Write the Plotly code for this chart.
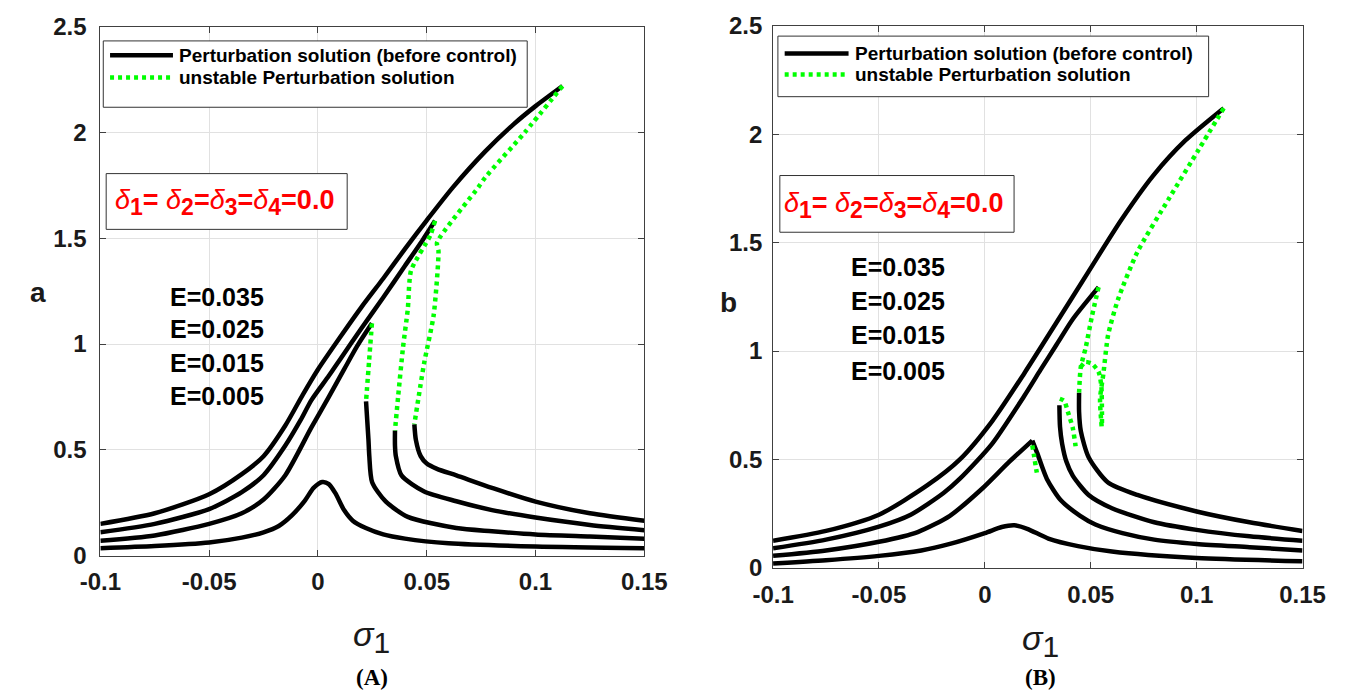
import plotly.graph_objects as go

# ================= DATA =================
x_ticks = [-0.1, -0.05, 0, 0.05, 0.1, 0.15]
x_tick_text = ["-0.1", "-0.05", "0", "0.05", "0.1", "0.15"]
y_ticks = [0, 0.5, 1, 1.5, 2, 2.5]
y_tick_text = ["0", "0.5", "1", "1.5", "2", "2.5"]
e_labels = ["E=0.035", "E=0.025", "E=0.015", "E=0.005"]
legend_names = ["Perturbation solution (before control)", "unstable Perturbation solution"]
panel_labels = ["(A)", "(B)"]
y_labels = ["a", "b"]

# ---- Panel A (a vs sigma1) ----
A_E035_up_x = [-0.1, -0.075, -0.05, -0.035, -0.025, -0.015, -0.007, 0.0, 0.01, 0.02, 0.03, 0.04, 0.05, 0.0621, 0.0769, 0.09, 0.1, 0.1124]
A_E035_up_y = [0.15, 0.2, 0.29, 0.385, 0.47, 0.615, 0.76, 0.88, 1.03, 1.175, 1.31, 1.45, 1.585, 1.742, 1.911, 2.04, 2.125, 2.22]
A_E035_un_x = [0.1124, 0.095, 0.0769, 0.0738, 0.0547, 0.0554, 0.0532, 0.0488, 0.0443]
A_E035_un_y = [2.22, 2.0, 1.788, 1.742, 1.479, 1.44, 1.138, 0.91, 0.621]
A_E035_lo_x = [0.0443, 0.045, 0.0472, 0.05, 0.0547, 0.0636, 0.08, 0.1, 0.125, 0.15]
A_E035_lo_y = [0.621, 0.547, 0.47, 0.435, 0.41, 0.379, 0.32, 0.255, 0.2, 0.165]

A_E025_up_x = [-0.1, -0.075, -0.05, -0.035, -0.025, -0.015, -0.008, -0.003, 0.005, 0.01, 0.02, 0.03, 0.04, 0.048, 0.0538]
A_E025_up_y = [0.11, 0.15, 0.22, 0.3, 0.38, 0.52, 0.64, 0.735, 0.85, 0.925, 1.075, 1.22, 1.37, 1.49, 1.583]
A_E025_un_x = [0.0538, 0.0517, 0.0428, 0.0413, 0.0391, 0.0369, 0.0354]
A_E025_un_y = [1.583, 1.515, 1.348, 1.166, 0.985, 0.757, 0.591]
A_E025_lo_x = [0.0354, 0.0354, 0.0358, 0.0384, 0.0488, 0.0636, 0.08, 0.1, 0.125, 0.15]
A_E025_lo_y = [0.591, 0.52, 0.47, 0.379, 0.303, 0.257, 0.215, 0.18, 0.145, 0.12]

A_E015_up_x = [-0.1, -0.075, -0.05, -0.035, -0.025, -0.015, -0.003, 0.005, 0.012, 0.018, 0.0248]
A_E015_up_y = [0.07, 0.095, 0.15, 0.2, 0.265, 0.38, 0.606, 0.75, 0.88, 0.99, 1.098]
A_E015_un_x = [0.0248, 0.0235, 0.0221]
A_E015_un_y = [1.098, 0.92, 0.729]
A_E015_lo_x = [0.0221, 0.0232, 0.0236, 0.0249, 0.0311, 0.0413, 0.0636, 0.08, 0.1, 0.125, 0.15]
A_E015_lo_y = [0.729, 0.55, 0.47, 0.347, 0.256, 0.183, 0.13, 0.115, 0.1, 0.09, 0.08]

A_E005_x = [-0.1, -0.075, -0.05, -0.035, -0.025, -0.018, -0.012, -0.006, -0.002, 0.002, 0.005, 0.008, 0.012, 0.016, 0.022, 0.03, 0.04, 0.06, 0.1, 0.15]
A_E005_y = [0.035, 0.045, 0.062, 0.085, 0.11, 0.14, 0.19, 0.26, 0.32, 0.348, 0.338, 0.295, 0.215, 0.165, 0.13, 0.1, 0.08, 0.058, 0.043, 0.035]

# ---- Panel B (b vs sigma1) ----
B_E035_up_x = [-0.1, -0.075, -0.05, -0.0271, -0.0119, 0.0034, 0.0186, 0.0339, 0.0491, 0.0644, 0.0796, 0.0948, 0.1128]
B_E035_up_y = [0.125, 0.17, 0.245, 0.381, 0.499, 0.676, 0.897, 1.133, 1.369, 1.605, 1.811, 1.973, 2.121]
B_E035_un_x = [0.1128, 0.101, 0.0872, 0.072, 0.0628, 0.0582, 0.056, 0.0544, 0.0552]
B_E035_un_y = [2.121, 1.93, 1.708, 1.457, 1.236, 1.074, 0.897, 0.779, 0.646]
B_E035_lo_x = [0.0445, 0.0445, 0.0453, 0.049, 0.058, 0.072, 0.1, 0.125, 0.15]
B_E035_lo_y = [0.808, 0.72, 0.632, 0.51, 0.395, 0.336, 0.26, 0.21, 0.17]

B_E025_up_x = [-0.1, -0.075, -0.05, -0.035, -0.0195, -0.0119, 0.0034, 0.0186, 0.0262, 0.0339, 0.0415, 0.0537]
B_E025_up_y = [0.09, 0.13, 0.19, 0.245, 0.345, 0.41, 0.572, 0.793, 0.912, 1.03, 1.147, 1.295]
B_E025_un_x = [0.0537, 0.0506, 0.0476, 0.0453, 0.0445]
B_E025_un_y = [1.295, 1.162, 1.015, 0.926, 0.808]
B_E025_arch_x = [0.0453, 0.0476, 0.0506, 0.0537, 0.055, 0.0553, 0.0553]
B_E025_arch_y = [0.926, 0.95, 0.941, 0.905, 0.84, 0.72, 0.66]
B_E025_lo_x = [0.0352, 0.0355, 0.0365, 0.0385, 0.0415, 0.049, 0.06, 0.08, 0.1, 0.125, 0.15]
B_E025_lo_y = [0.75, 0.65, 0.572, 0.49, 0.425, 0.336, 0.275, 0.21, 0.175, 0.145, 0.125]
B_E025_un2_x = [0.0354, 0.0375, 0.0392, 0.0415, 0.0427, 0.043]
B_E025_un2_y = [0.78, 0.77, 0.72, 0.646, 0.572, 0.55]

B_E015_up_x = [-0.1, -0.075, -0.05, -0.0317, -0.0165, -0.0012, 0.011, 0.0224]
B_E015_up_y = [0.055, 0.08, 0.12, 0.165, 0.24, 0.366, 0.484, 0.587]
B_E015_lo_x = [0.0224, 0.0247, 0.0293, 0.036, 0.045, 0.0522, 0.065, 0.08, 0.1, 0.125, 0.15]
B_E015_lo_y = [0.587, 0.53, 0.41, 0.31, 0.24, 0.2, 0.16, 0.13, 0.11, 0.095, 0.08]
B_E015_un_x = [0.0224, 0.0232, 0.024, 0.0247]
B_E015_un_y = [0.565, 0.52, 0.47, 0.43]

B_E005_x = [-0.1, -0.075, -0.05, -0.03, -0.0165, 0.0, 0.008, 0.014, 0.02, 0.03, 0.044, 0.06, 0.1, 0.15]
B_E005_y = [0.02, 0.035, 0.055, 0.08, 0.11, 0.16, 0.188, 0.196, 0.18, 0.135, 0.1, 0.075, 0.045, 0.03]

# ================= STYLE =================
W, H = 1371, 700
FONT = "Liberation Sans, Arial, sans-serif"
SERIF = "Liberation Serif, Times New Roman, serif"
BLACK = "#000000"
GREEN = "#00ff00"
LW = 4.5
GDASH = "4px,4px"


def PX(px):
    return px / W


def PY(py):
    return 1 - py / H


fig = go.Figure()

stable_A = [(A_E035_up_x, A_E035_up_y), (A_E035_lo_x, A_E035_lo_y),
            (A_E025_up_x, A_E025_up_y), (A_E025_lo_x, A_E025_lo_y),
            (A_E015_up_x, A_E015_up_y), (A_E015_lo_x, A_E015_lo_y),
            (A_E005_x, A_E005_y)]
unstable_A = [(A_E035_un_x, A_E035_un_y), (A_E025_un_x, A_E025_un_y), (A_E015_un_x, A_E015_un_y)]
stable_B = [(B_E035_up_x, B_E035_up_y), (B_E035_lo_x, B_E035_lo_y),
            (B_E025_up_x, B_E025_up_y), (B_E025_lo_x, B_E025_lo_y),
            (B_E015_up_x, B_E015_up_y), (B_E015_lo_x, B_E015_lo_y),
            (B_E005_x, B_E005_y)]
unstable_B = [(B_E035_un_x, B_E035_un_y), (B_E025_un_x, B_E025_un_y), (B_E025_arch_x, B_E025_arch_y),
              (B_E025_un2_x, B_E025_un2_y), (B_E015_un_x, B_E015_un_y)]

for (xs, ys), ax in [(s, "A") for s in stable_A] + [(s, "B") for s in stable_B]:
    fig.add_trace(go.Scatter(x=xs, y=ys, mode="lines",
                             line=dict(color=BLACK, width=LW, shape="spline", smoothing=0.7),
                             xaxis="x" if ax == "A" else "x2", yaxis="y" if ax == "A" else "y2",
                             showlegend=False, hoverinfo="skip"))
for (xs, ys), ax in [(s, "A") for s in unstable_A] + [(s, "B") for s in unstable_B]:
    fig.add_trace(go.Scatter(x=xs, y=ys, mode="lines",
                             line=dict(color=GREEN, width=LW, dash=GDASH, shape="spline", smoothing=0.6),
                             xaxis="x" if ax == "A" else "x2", yaxis="y" if ax == "A" else "y2",
                             showlegend=False, hoverinfo="skip"))

axis_common = dict(showline=True, linecolor="#404040", linewidth=1, mirror="ticks",
                   ticks="inside", ticklen=6, tickcolor="#404040", ticklabeloverflow="allow",
                   showgrid=True, gridcolor="#e1e1e1", gridwidth=1, zeroline=False,
                   tickfont=dict(family=FONT, size=24, color="#1a1a1a", weight="bold"))

fig.update_layout(
    width=W, height=H, autosize=False,
    margin=dict(l=0, r=0, t=0, b=0),
    paper_bgcolor="white", plot_bgcolor="white",
    xaxis=dict(domain=[PX(82), PX(644)], range=[-0.1, 0.15], tickvals=x_ticks, ticktext=x_tick_text,
               anchor="y", ticklabelstandoff=5, **axis_common),
    yaxis=dict(domain=[PY(563.3), PY(13.3)], range=[0, 2.5], tickvals=y_ticks, ticktext=y_tick_text,
               anchor="x", ticklabelstandoff=8, **axis_common),
    xaxis2=dict(domain=[PX(777), PX(1324)], range=[-0.1, 0.15], tickvals=x_ticks, ticktext=x_tick_text,
                anchor="y2", ticklabelstandoff=5, **axis_common),
    yaxis2=dict(domain=[PY(576), PY(12.5)], range=[0, 2.5], tickvals=y_ticks, ticktext=y_tick_text,
                anchor="x2", ticklabelstandoff=5, **axis_common),
)

shapes = []
annotations = []


def legend(box, line_x0, line_x1, row_y, text_x):
    x0, y0, x1, y1 = box
    shapes.append(dict(type="rect", xref="paper", yref="paper", x0=PX(x0), x1=PX(x1), y0=PY(y1), y1=PY(y0),
                       line=dict(color="#333333", width=1), fillcolor="white", layer="above"))
    shapes.append(dict(type="line", xref="paper", yref="paper", x0=PX(line_x0), x1=PX(line_x1),
                       y0=PY(row_y[0]), y1=PY(row_y[0]), line=dict(color=BLACK, width=LW), layer="above"))
    shapes.append(dict(type="line", xref="paper", yref="paper", x0=PX(line_x0), x1=PX(line_x1),
                       y0=PY(row_y[1]), y1=PY(row_y[1]), line=dict(color=GREEN, width=LW, dash=GDASH), layer="above"))
    for name, yy in zip(legend_names, row_y):
        annotations.append(dict(xref="paper", yref="paper", x=PX(text_x), y=PY(yy), text=name,
                                showarrow=False, xanchor="left", yanchor="middle",
                                font=dict(family=FONT, size=19, color="black", weight="bold")))


legend((85, 28, 523, 97), 92, 157, (43, 66), 161)
legend((782, 23, 1227, 86), 789, 855, (41, 63), 860)


def delta_box(box, cx, cy):
    x0, y0, x1, y1 = box
    shapes.append(dict(type="rect", xref="paper", yref="paper", x0=PX(x0), x1=PX(x1), y0=PY(y1), y1=PY(y0),
                       line=dict(color="#333333", width=1), fillcolor="white", layer="above"))
    d = lambda n: "<i>δ</i><sub><b><span style='font-size:23px'>" + n + "</span></b></sub>"
    txt = d("1") + "<b>= </b>" + d("2") + "<b>=</b>" + d("3") + "<b>=</b>" + d("4") + "<b>=0.0</b>"
    annotations.append(dict(xref="paper", yref="paper", x=PX(cx), y=PY(cy), text=txt,
                            showarrow=False, xanchor="center", yanchor="middle",
                            font=dict(family=FONT, size=27, color="#ff0000")))


delta_box((88, 166, 337, 224), 210, 196)
delta_box((784, 168, 1026, 227), 901, 199)

for lab, yy in zip(e_labels, (294, 328, 363, 397)):
    annotations.append(dict(xref="paper", yref="paper", x=PX(202), y=PY(yy), text=lab, showarrow=False,
                            xanchor="center", yanchor="middle",
                            font=dict(family=FONT, size=25, color="black", weight="bold")))
for lab, yy in zip(e_labels, (263, 298, 334, 371)):
    annotations.append(dict(xref="paper", yref="paper", x=PX(906), y=PY(yy), text=lab, showarrow=False,
                            xanchor="center", yanchor="middle",
                            font=dict(family=FONT, size=25, color="black", weight="bold")))

# axis labels
for lab, cx, cy in zip(y_labels, (18, 731), (290, 300)):
    annotations.append(dict(xref="paper", yref="paper", x=PX(cx), y=PY(cy), text=lab, showarrow=False,
                            xanchor="center", yanchor="middle",
                            font=dict(family=FONT, size=28, color="#1a1a1a", weight="bold")))
for cx, cy in ((362, 648), (1053, 652)):
    annotations.append(dict(xref="paper", yref="paper", x=PX(cx), y=PY(cy),
                            text="<i>σ</i><sub><span style='font-size:30px'>1</span></sub>", showarrow=False,
                            xanchor="center", yanchor="middle",
                            font=dict(family=FONT, size=34, color="#1a1a1a")))
for lab, cx, cy in zip(panel_labels, (363, 1053), (690, 690)):
    annotations.append(dict(xref="paper", yref="paper", x=PX(cx), y=PY(cy), text="<b>" + lab + "</b>",
                            showarrow=False, xanchor="center", yanchor="middle",
                            font=dict(family=SERIF, size=23, color="black")))

fig.update_layout(shapes=shapes, annotations=annotations)
fig.write_html("out.html", post_script="document.body.style.margin='0px';",
               config={"displayModeBar": False})
